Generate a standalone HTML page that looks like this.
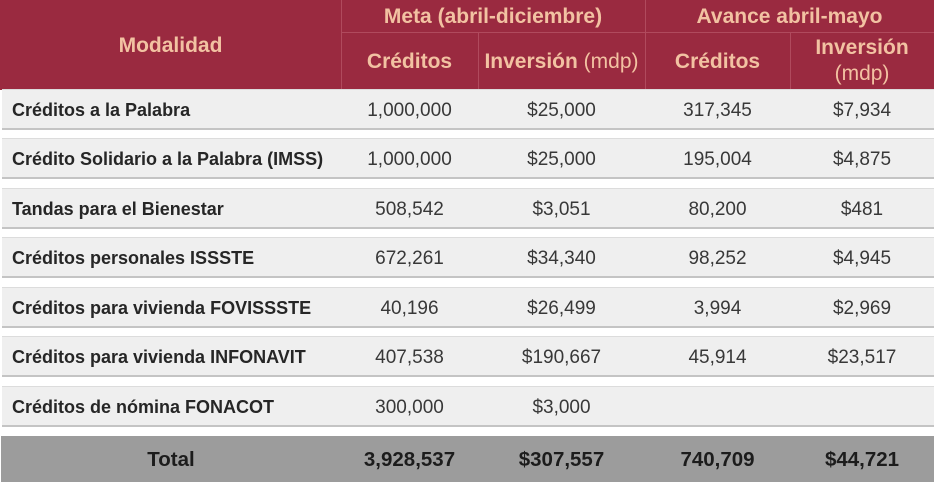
<!DOCTYPE html>
<html><head><meta charset="utf-8"><style>
html,body{margin:0;padding:0;}
body{width:934px;height:484px;background:#fff;position:relative;overflow:hidden;font-family:"Liberation Sans",sans-serif;}
.hdr{position:absolute;left:0;top:0;width:934px;height:90px;background:#9a2a40;}
.vl{position:absolute;width:1px;background:#b04a5d;}
.hl{position:absolute;height:1px;background:#b04a5d;}
.ht{position:absolute;color:#f2c2a2;font-weight:bold;font-size:21px;text-align:center;line-height:26px;white-space:nowrap;}
.ht .n{font-weight:normal;}
.band{position:absolute;left:2px;width:932px;height:38px;background:#efefef;border-top:1px solid #dcdcdc;border-bottom:2px solid #c4c4c4;}
.c{position:absolute;top:0;height:38px;line-height:41px;white-space:nowrap;}
.lab{left:10px;font-weight:bold;font-size:18px;color:#262626;line-height:40px;}
.num{font-size:19px;color:#383838;text-align:center;}
.c2{left:339px;width:137px;}
.c3{left:476px;width:167px;}
.c4{left:643px;width:145px;}
.c5{left:788px;width:144px;}
.tot{position:absolute;left:1px;top:436px;width:933px;height:46px;background:#9c9c9c;}
.tot .c{height:46px;line-height:48px;font-weight:bold;font-size:20.5px;color:#1c1c1c;text-align:center;}
</style></head><body>
<div class="hdr"></div>
<div class="vl" style="left:341px;top:0;height:90px"></div>
<div class="vl" style="left:645px;top:0;height:90px"></div>
<div class="vl" style="left:478px;top:32px;height:58px"></div>
<div class="vl" style="left:790px;top:32px;height:58px"></div>
<div class="hl" style="left:341px;top:32px;width:593px"></div>

<div class="ht" style="left:0;width:341px;top:33px">Modalidad</div>
<div class="ht" style="left:341px;width:304px;top:4px">Meta (abril-diciembre)</div>
<div class="ht" style="left:645px;width:289px;top:4px">Avance abril-mayo</div>
<div class="ht" style="left:341px;width:137px;top:49px">Créditos</div>
<div class="ht" style="left:478px;width:167px;top:49px">Inversión <span class="n">(mdp)</span></div>
<div class="ht" style="left:645px;width:145px;top:49px">Créditos</div>
<div class="ht" style="left:790px;width:144px;top:35px">Inversión<br><span class="n">(mdp)</span></div>

<div class="band" style="top:89px"><div class="c lab">Créditos a la Palabra</div><div class="c num c2">1,000,000</div><div class="c num c3">$25,000</div><div class="c num c4">317,345</div><div class="c num c5">$7,934</div></div>
<div class="band" style="top:138px"><div class="c lab">Crédito Solidario a la Palabra (IMSS)</div><div class="c num c2">1,000,000</div><div class="c num c3">$25,000</div><div class="c num c4">195,004</div><div class="c num c5">$4,875</div></div>
<div class="band" style="top:188px"><div class="c lab">Tandas para el Bienestar</div><div class="c num c2">508,542</div><div class="c num c3">$3,051</div><div class="c num c4">80,200</div><div class="c num c5">$481</div></div>
<div class="band" style="top:237px"><div class="c lab">Créditos personales ISSSTE</div><div class="c num c2">672,261</div><div class="c num c3">$34,340</div><div class="c num c4">98,252</div><div class="c num c5">$4,945</div></div>
<div class="band" style="top:287px"><div class="c lab">Créditos para vivienda FOVISSSTE</div><div class="c num c2">40,196</div><div class="c num c3">$26,499</div><div class="c num c4">3,994</div><div class="c num c5">$2,969</div></div>
<div class="band" style="top:336px"><div class="c lab">Créditos para vivienda INFONAVIT</div><div class="c num c2">407,538</div><div class="c num c3">$190,667</div><div class="c num c4">45,914</div><div class="c num c5">$23,517</div></div>
<div class="band" style="top:386px"><div class="c lab">Créditos de nómina FONACOT</div><div class="c num c2">300,000</div><div class="c num c3">$3,000</div></div>

<div class="tot">
<div class="c" style="left:0;width:340px">Total</div>
<div class="c" style="left:340px;width:137px">3,928,537</div>
<div class="c" style="left:477px;width:167px">$307,557</div>
<div class="c" style="left:644px;width:145px">740,709</div>
<div class="c" style="left:789px;width:144px">$44,721</div>
</div>
</body></html>
